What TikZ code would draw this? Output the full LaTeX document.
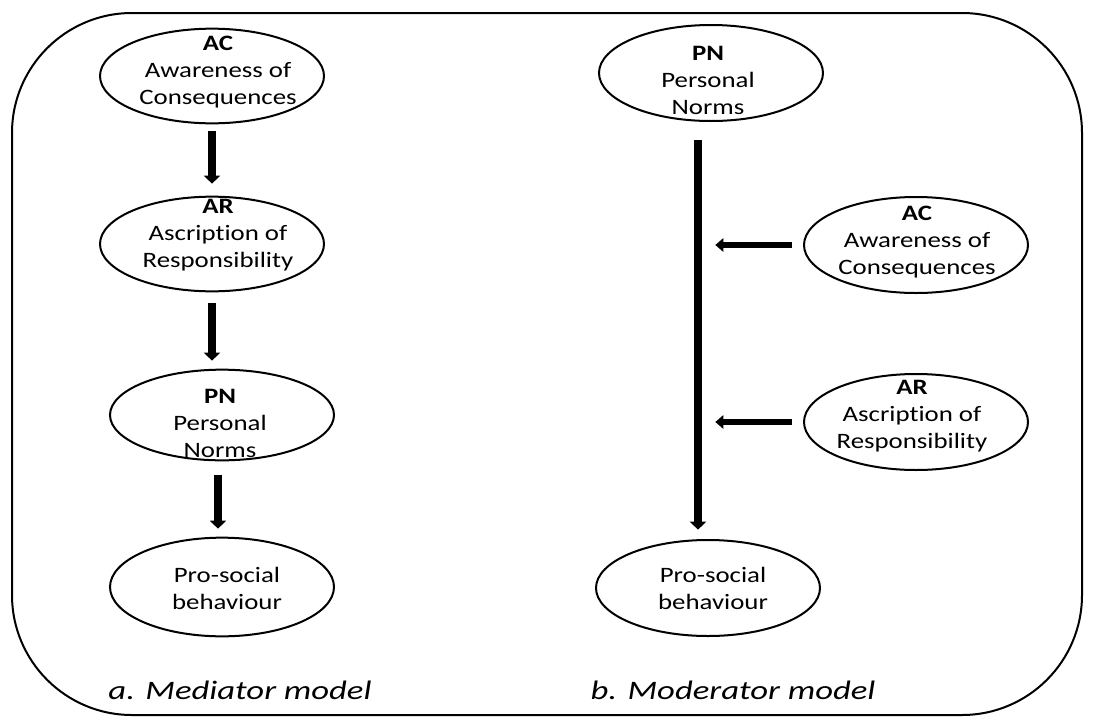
\documentclass[tikz,border=0pt]{standalone}
\usepackage{fontspec}
\setmainfont{Carlito}[FakeStretch=1.22,Ligatures=NoCommon]
\newfontfamily\capfont{Carlito}[FakeStretch=1.3,Ligatures=NoCommon]
\usetikzlibrary{shapes.geometric,arrows.meta}
\begin{document}
\begin{tikzpicture}[x=0.75pt,y=-0.75pt,
  ell/.style={draw, ellipse, line width=1.5pt, inner sep=0pt, minimum width=168pt, minimum height=71pt},
  txt/.style={align=center, inner sep=0pt, font=\fontsize{16.5pt}{20.25pt}\selectfont},
  varr/.style={line width=5.5pt, -{Triangle[width=12pt,length=6pt]}},
  harr/.style={line width=5pt, -{Triangle[width=10pt,length=6pt]}},
  captext/.style={font=\capfont\itshape\fontsize{20pt}{24pt}\selectfont}]
\useasboundingbox (0,0) rectangle (1093,718);
\draw[line width=1.5pt, rounded corners=90pt] (12,13) rectangle (1082,715);
% ellipses
\node[ell] (acL) at (212,76) {};
\node[ell] (arL) at (212,244) {};
\node[ell, minimum height=68pt] (pnL) at (222,415) {};
\node[ell, minimum height=74pt] (proL) at (222,587) {};
\node[ell, minimum height=72pt] (pnR) at (711,73) {};
\node[ell, minimum height=72pt] (acR) at (916,245) {};
\node[ell, minimum height=72pt] (arR) at (916,422) {};
\node[ell, minimum height=72pt] (proR) at (708,588) {};
% texts
\node[txt] (acLt) at (218,72) {\textbf{AC}\\Awareness of\\Consequences};
\node[txt] (arLt) at (218,235) {\textbf{AR}\\Ascription of\\Responsibility};
\node[txt] (pnLt) at (220,423) {\textbf{PN}\\Personal\\Norms};
\node[txt] (proLt) at (227,588) {Pro-social\\behaviour};
\node[txt] (pnRt) at (708,80) {\textbf{PN}\\Personal\\Norms};
\node[txt] (acRt) at (917,242) {\textbf{AC}\\Awareness of\\Consequences};
\node[txt] (arRt) at (912,416) {\textbf{AR}\\Ascription of\\Responsibility};
\node[txt] (proRt) at (713,588) {Pro-social\\behaviour};
% left arrows
\draw[varr, shorten <=5pt, shorten >=9pt] (acL.south) -- (arL.north);
\draw[varr, shorten <=8pt, shorten >=6pt] (arL.south) -- (arL.south |- pnL.north);
\draw[varr, shorten <=10pt, shorten >=6pt] ([xshift=-3pt]pnL.south) -- ([xshift=-3pt]proL.north);
% right arrows
\coordinate (vtop) at (698,140);
\draw[varr, shorten >=7pt] (vtop) -- (vtop |- proR.north);
\draw[harr, shorten <=8pt, shorten >=13pt] (acR.west) -- (acR.west -| vtop);
\draw[harr, shorten <=8pt, shorten >=13pt] (arR.west) -- (arR.west -| vtop);
% captions
\node[captext] (capA) at (240,690) {a. Mediator model};
\node[captext] (capB) at (733,690) {b. Moderator model};
\end{tikzpicture}
\end{document}
